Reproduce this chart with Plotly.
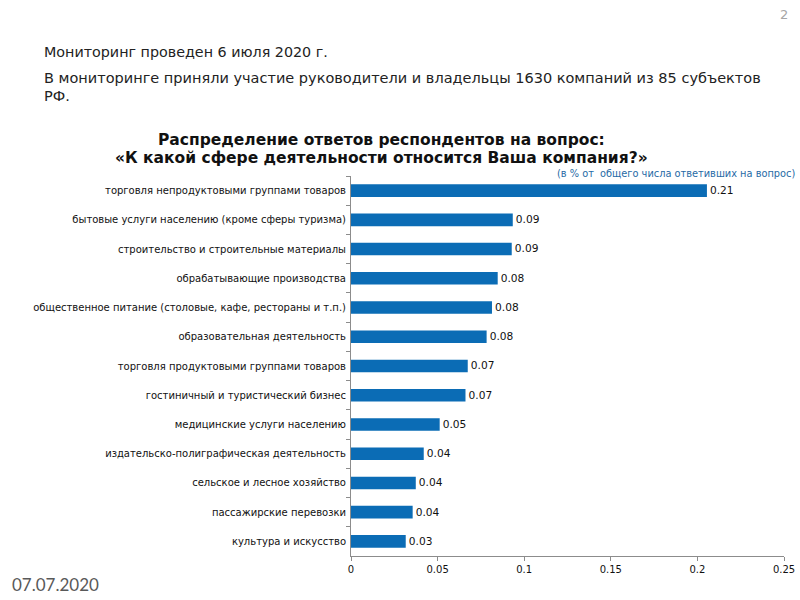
import plotly.graph_objects as go

categories = [
    "торговля непродуктовыми группами товаров",
    "бытовые услуги населению (кроме сферы туризма)",
    "строительство и строительные материалы",
    "обрабатывающие производства",
    "общественное питание (столовые, кафе, рестораны и т.п.)",
    "образовательная деятельность",
    "торговля продуктовыми группами товаров",
    "гостиничный и туристический бизнес",
    "медицинские услуги населению",
    "издательско-полиграфическая деятельность",
    "сельское и лесное хозяйство",
    "пассажирские перевозки",
    "культура и искусство",
]
values = [0.2055, 0.0934, 0.0928, 0.0847, 0.0814, 0.0783, 0.0674,
          0.0661, 0.0512, 0.0420, 0.0374, 0.0356, 0.0316]
x_ticks = [0, 0.05, 0.1, 0.15, 0.2, 0.25]
x_tick_labels = ["0", "0.05", "0.1", "0.15", "0.2", "0.25"]

W, H = 800, 600
L, R, T, B = 351, 16, 176, 44
PW, PH = W - L - R, H - T - B


def px(x):
    return (x - L) / PW


def py(y):
    return (H - B - y) / PH


FONT = "DejaVu Sans"

fig = go.Figure(go.Bar(
    x=values,
    y=categories,
    orientation="h",
    marker=dict(color="#0B6CB5", line=dict(width=0)),
    width=0.43,
    text=values,
    texttemplate="%{x:.2f}",
    textposition="outside",
    textfont=dict(family=FONT, size=11, color="#111111"),
    cliponaxis=False,
))

fig.update_layout(
    width=W, height=H,
    margin=dict(l=L, r=R, t=T, b=B, autoexpand=False),
    paper_bgcolor="white",
    plot_bgcolor="white",
    showlegend=False,
    font=dict(family=FONT, color="#111111"),
    xaxis=dict(
        range=[0, 0.25],
        tickvals=x_ticks,
        ticktext=x_tick_labels,
        showgrid=False,
        zeroline=False,
        showline=True,
        linecolor="#8c8c8c",
        linewidth=1,
        ticks="outside",
        ticklen=4,
        tickcolor="#8c8c8c",
        tickfont=dict(family=FONT, size=10, color="#111111"),
        fixedrange=True,
    ),
    yaxis=dict(
        autorange="reversed",
        showgrid=False,
        zeroline=False,
        showline=True,
        linecolor="#8c8c8c",
        linewidth=1,
        ticks="outside",
        tickson="boundaries",
        ticklen=4,
        tickcolor="#8c8c8c",
        tickfont=dict(family=FONT, size=10, color="#111111"),
        ticklabelstandoff=2,
        fixedrange=True,
    ),
)

annotations = [
    dict(text="Мониторинг проведен 6 июля 2020 г.", x=px(42), y=py(52),
         xanchor="left", yanchor="middle", font=dict(family=FONT, size=14.3, color="#222222")),
    dict(text="В мониторинге приняли участие руководители и владельцы 1630 компаний из 85 субъектов",
         x=px(42), y=py(78), xanchor="left", yanchor="middle",
         font=dict(family=FONT, size=14.5, color="#222222")),
    dict(text="РФ.", x=px(42), y=py(96), xanchor="left", yanchor="middle",
         font=dict(family=FONT, size=14.5, color="#222222")),
    dict(text="<b>Распределение ответов респондентов на вопрос:</b>", x=px(381), y=py(140),
         xanchor="center", yanchor="middle", font=dict(family=FONT, size=15.5, color="#111111")),
    dict(text="<b>«К какой сфере деятельности относится Ваша компания?»</b>", x=px(381), y=py(158),
         xanchor="center", yanchor="middle", font=dict(family=FONT, size=15.5, color="#111111")),
    dict(text="(в % от  общего числа ответивших на вопрос)", x=px(797), y=py(173),
         xanchor="right", yanchor="middle", font=dict(family=FONT, size=9.8, color="#1F6AA5")),
    dict(text="07.07.2020", x=px(10), y=py(584), xanchor="left", yanchor="middle",
         font=dict(family="Lato", size=17, color="#595959")),
    dict(text="2", x=px(790), y=py(15), xanchor="right", yanchor="middle",
         font=dict(family=FONT, size=13, color="#a6a6a6")),
]
for a in annotations:
    a.update(xref="paper", yref="paper", showarrow=False)
fig.update_layout(annotations=annotations)

fig.write_html(
    "out.html",
    config={"displayModeBar": False},
    post_script="document.body.style.margin='0';document.body.style.overflow='hidden';",
)
